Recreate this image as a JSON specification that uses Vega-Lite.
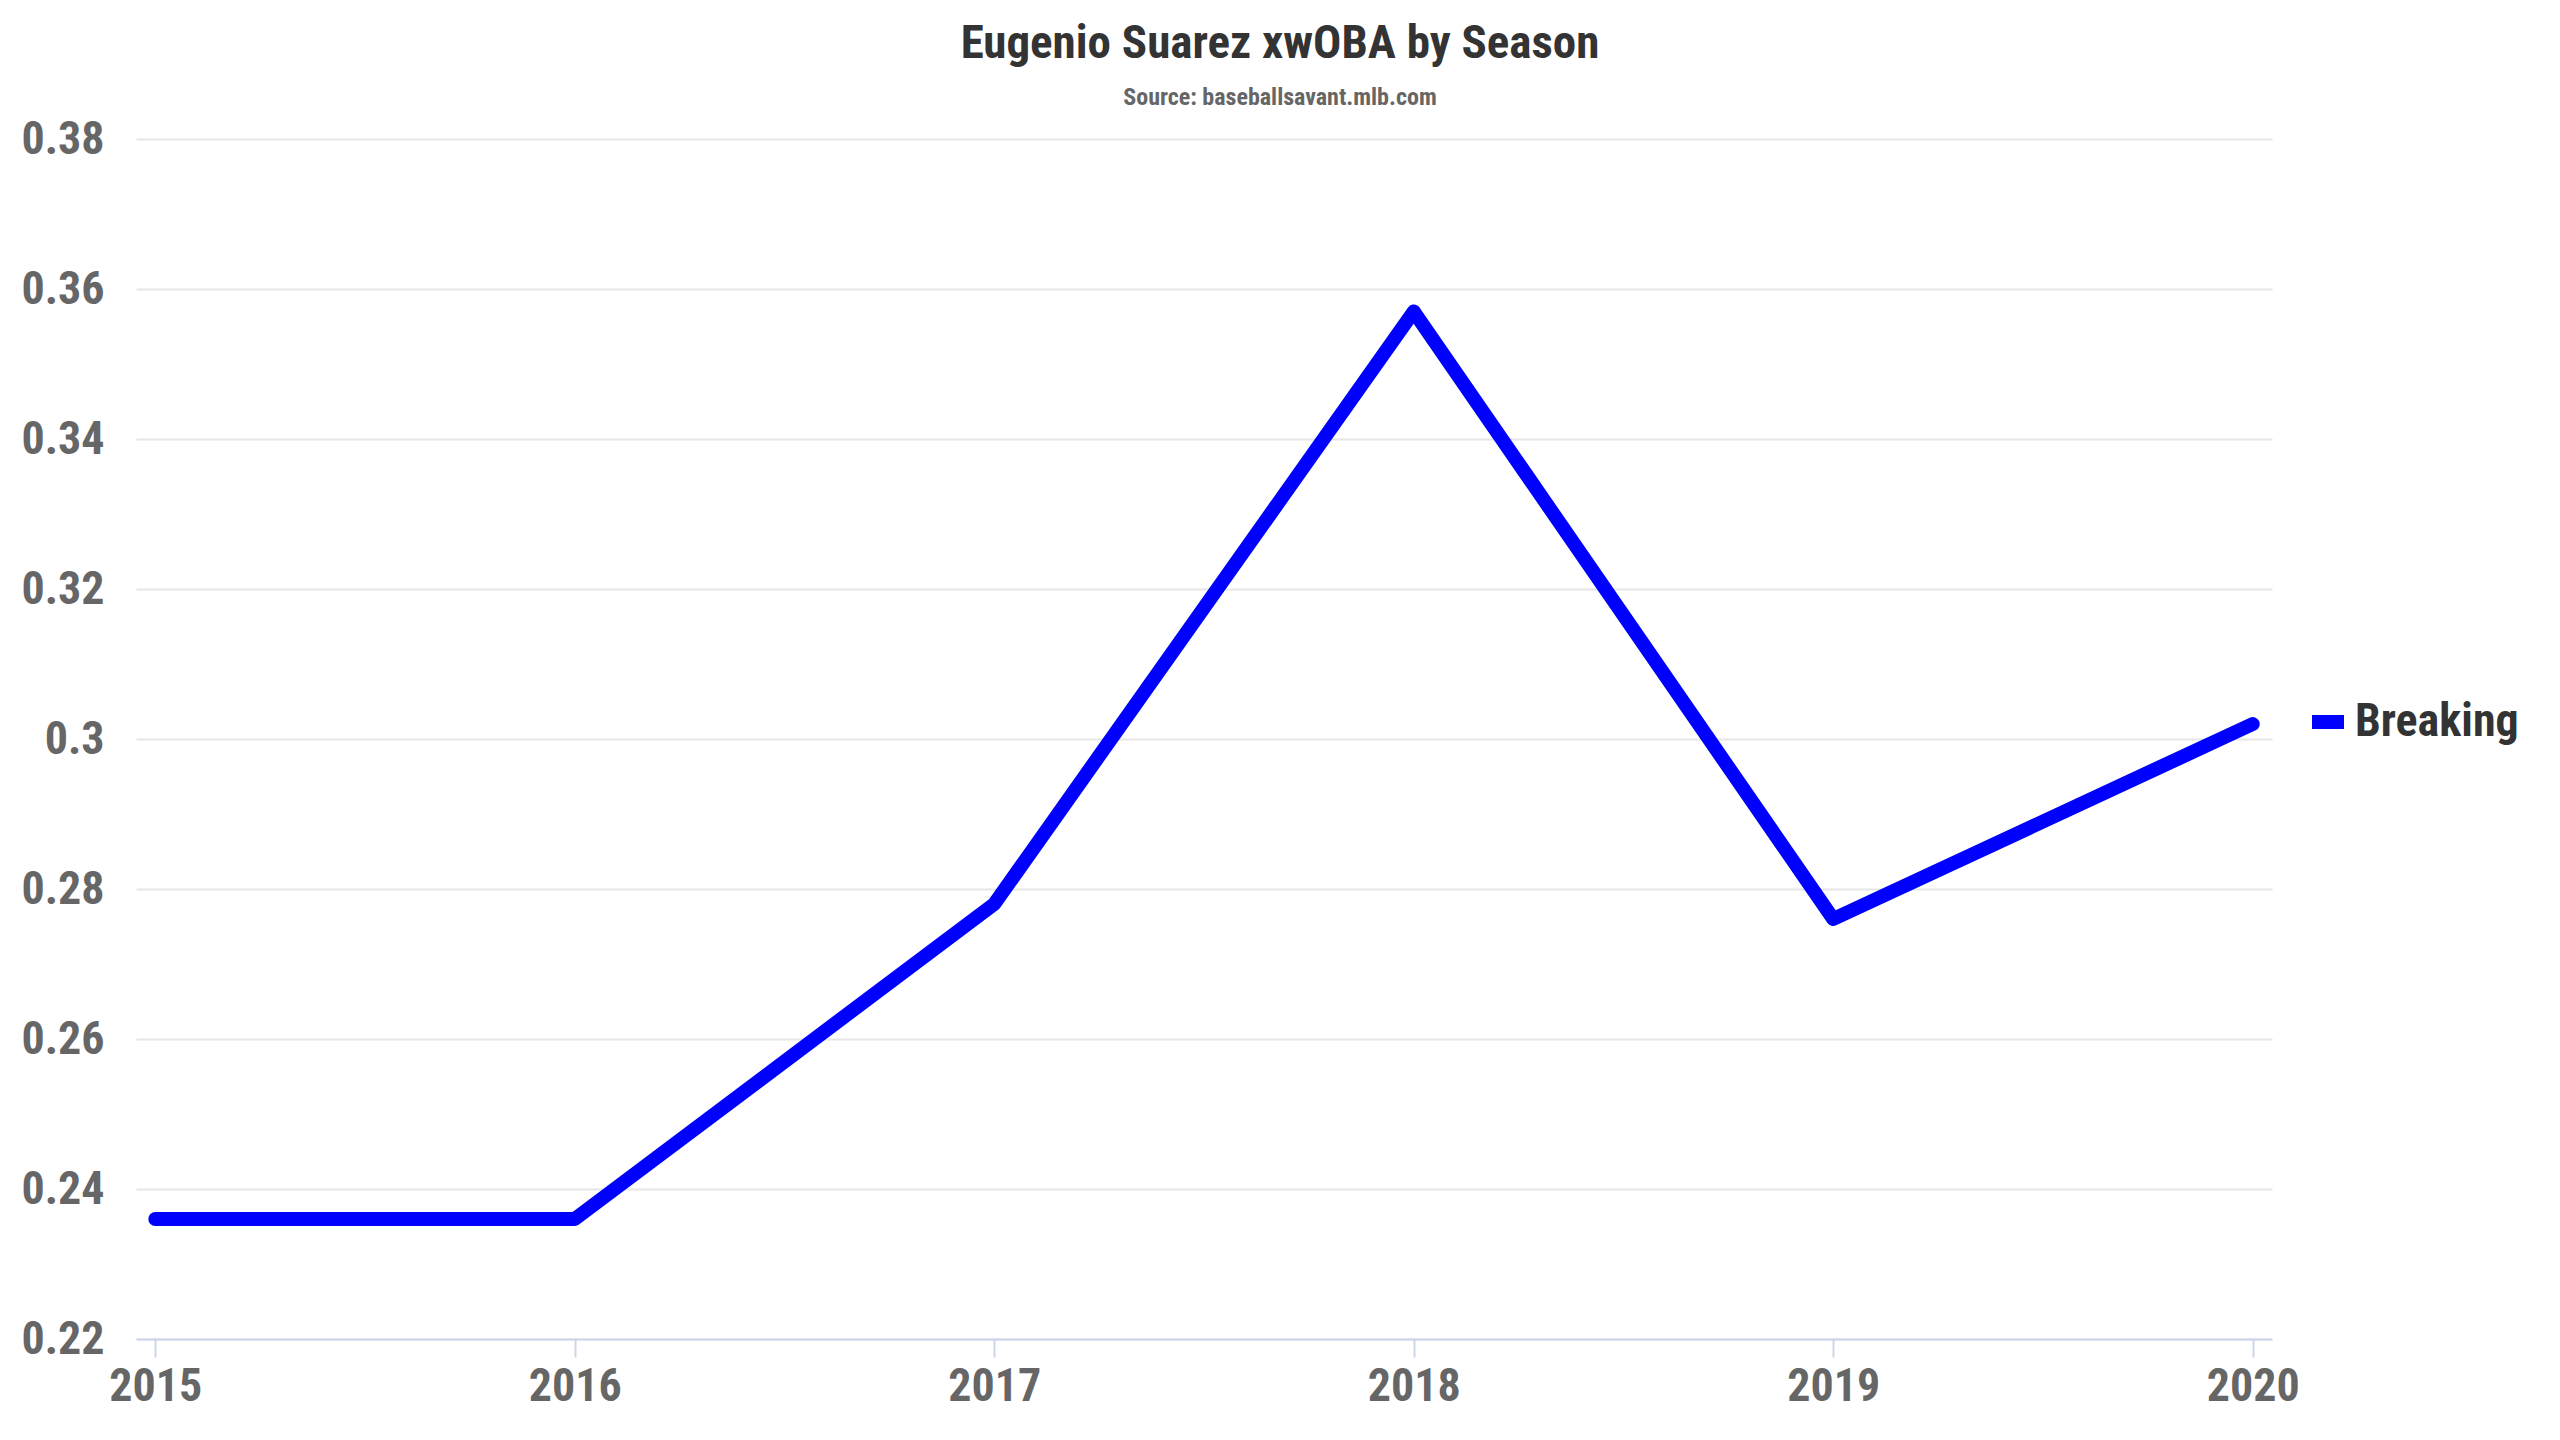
{
  "$schema": "https://vega.github.io/schema/vega-lite/v6.json",
  "width": 2136,
  "height": 1200,
  "autosize": {"type": "none"},
  "padding": {"left": 136, "top": 139, "right": 288, "bottom": 101},
  "background": "white",
  "title": {
    "text": "Eugenio Suarez xwOBA by Season",
    "subtitle": "Source: baseballsavant.mlb.com",
    "anchor": "middle",
    "frame": "group",
    "dx": 76,
    "offset": 5,
    "font": "Roboto Condensed, Liberation Sans Narrow, Roboto, sans-serif",
    "fontSize": 47,
    "fontWeight": "bold",
    "color": "#333333",
    "subtitleFont": "Roboto Condensed, Liberation Sans Narrow, Roboto, sans-serif",
    "subtitleFontSize": 24,
    "subtitleFontWeight": "bold",
    "subtitleColor": "#666666",
    "subtitlePadding": 18
  },
  "config": {
    "view": {"stroke": null},
    "font": "Roboto Condensed, Liberation Sans Narrow, Roboto, sans-serif"
  },
  "data": {
    "values": [
      {"season": "2015", "xwoba": 0.236, "pitch": "Breaking"},
      {"season": "2016", "xwoba": 0.236, "pitch": "Breaking"},
      {"season": "2017", "xwoba": 0.278, "pitch": "Breaking"},
      {"season": "2018", "xwoba": 0.357, "pitch": "Breaking"},
      {"season": "2019", "xwoba": 0.276, "pitch": "Breaking"},
      {"season": "2020", "xwoba": 0.302, "pitch": "Breaking"}
    ]
  },
  "mark": {
    "type": "line",
    "strokeWidth": 14,
    "strokeCap": "round",
    "strokeJoin": "round"
  },
  "encoding": {
    "x": {
      "field": "season",
      "type": "ordinal",
      "scale": {"type": "point", "padding": 0.046},
      "axis": {
        "title": null,
        "labelAngle": 0,
        "labelFont": "Roboto Condensed, Liberation Sans Narrow, Roboto, sans-serif",
        "labelFontSize": 46,
        "labelFontWeight": "bold",
        "labelColor": "#666666",
        "labelPadding": 7,
        "domainColor": "#ccd6eb",
        "domainWidth": 2,
        "tickColor": "#ccd6eb",
        "tickWidth": 2,
        "tickSize": 18,
        "grid": false
      }
    },
    "y": {
      "field": "xwoba",
      "type": "quantitative",
      "scale": {"domain": [0.22, 0.38], "nice": false, "zero": false},
      "axis": {
        "title": null,
        "values": [0.22, 0.24, 0.26, 0.28, 0.3, 0.32, 0.34, 0.36, 0.38],
        "format": "~g",
        "labelFont": "Roboto Condensed, Liberation Sans Narrow, Roboto, sans-serif",
        "labelFontSize": 46,
        "labelFontWeight": "bold",
        "labelColor": "#666666",
        "labelPadding": 32,
        "domain": false,
        "ticks": false,
        "grid": true,
        "gridColor": "#e6e6e6",
        "gridWidth": 2
      }
    },
    "color": {
      "field": "pitch",
      "type": "nominal",
      "scale": {"range": ["#0000ff"]},
      "legend": {
        "title": null,
        "orient": "none",
        "legendX": 2169,
        "legendY": 560,
        "padding": 0,
        "symbolType": "stroke",
        "symbolSize": 1024,
        "symbolStrokeWidth": 14,
        "labelOffset": 4,
        "labelFont": "Roboto Condensed, Liberation Sans Narrow, Roboto, sans-serif",
        "labelFontSize": 46,
        "labelFontWeight": "bold",
        "labelColor": "#333333",
        "labelLimit": 400
      }
    }
  }
}
